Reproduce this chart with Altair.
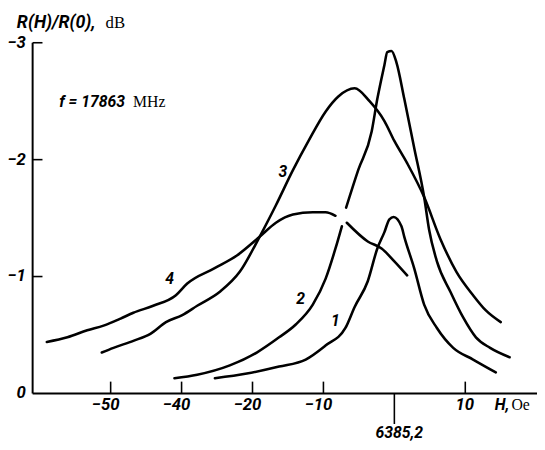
import altair as alt
import pandas as pd

# curve data: H (Oe, relative to 6385.2), R(H)/R(0) in dB
c1_H = [-25.3, -20.8, -16.25, -12.5, -9.7, -6.9, -5.6, -3.75, -2.4, -1.4, -0.7, -0.1, 1.0, 1.4, 2.8, 4.2, 6.0, 8.3, 11.1, 14.3]
c1_dB = [-0.13, -0.17, -0.23, -0.29, -0.41, -0.56, -0.74, -0.96, -1.24, -1.38, -1.49, -1.51, -1.43, -1.34, -1.07, -0.76, -0.56, -0.39, -0.29, -0.18]

c2a_H = [-31.0, -27.8, -23.2, -19.4, -16.25, -13.9, -11.5, -9.7, -8.3, -7.4]
c2a_dB = [-0.13, -0.16, -0.24, -0.35, -0.48, -0.59, -0.76, -0.98, -1.24, -1.43]
c2b_H = [-6.8, -5.1, -3.2, -2.4, -1.4, -1.0, -0.4, 0.3, 1.4, 2.8, 4.2, 4.9, 6.0, 7.9, 9.7, 11.5, 13.5, 16.25]
c2b_dB = [-1.59, -1.91, -2.24, -2.52, -2.81, -2.92, -2.93, -2.83, -2.52, -2.10, -1.68, -1.40, -1.13, -0.87, -0.65, -0.48, -0.39, -0.31]

c3_H = [-41.25, -39.6, -36.8, -34.4, -32.2, -29.9, -27.8, -24.6, -21.8, -19.0, -16.7, -14.3, -12.1, -9.7, -7.9, -5.6, -3.5, -1.4, 0.0, 1.8, 4.2, 6.5, 8.75, 11.1, 12.9, 15.0]
c3_dB = [-0.35, -0.39, -0.45, -0.51, -0.61, -0.67, -0.75, -0.87, -1.04, -1.34, -1.61, -1.91, -2.16, -2.41, -2.54, -2.61, -2.50, -2.33, -2.16, -1.97, -1.68, -1.32, -1.04, -0.84, -0.71, -0.61]

c4a_H = [-49.0, -46.1, -43.3, -41.0, -38.6, -36.8, -34.0, -30.8, -29.2, -25.4, -22.2, -19.0, -16.7, -14.3, -11.5, -9.7, -8.3]
c4a_dB = [-0.44, -0.48, -0.54, -0.58, -0.64, -0.69, -0.75, -0.84, -0.94, -1.07, -1.18, -1.34, -1.46, -1.53, -1.55, -1.55, -1.52]
c4b_H = [-6.7, -3.75, -1.8, 0.0, 1.8]
c4b_dB = [-1.46, -1.30, -1.24, -1.13, -1.01]

curve_labels = ["1", "2", "3", "4"]
curve_label_H = [-8.3, -13.2, -15.7, -31.7]
curve_label_dB = [-0.62, -0.81, -1.89, -0.98]

x_tick_values = [-40, -30, -20, -10, 10]
x_tick_labels = ["\u221250", "\u221240", "\u221220", "\u221210", "10"]
y_tick_values = [-1, -2, -3]
y_label_values = [0, -1, -2, -3]
y_label_texts = ["0", "\u22121", "\u22122", "\u22123"]
center_H = [0]
center_label = ["6385,2"]

SANS = "Roboto, Liberation Sans, sans-serif"
SERIF = "Liberation Serif, DejaVu Serif, serif"
W, H = 504, 356

rows = []
for seg, hs, ds in [("1", c1_H, c1_dB), ("2a", c2a_H, c2a_dB), ("2b", c2b_H, c2b_dB),
                    ("3", c3_H, c3_dB), ("4a", c4a_H, c4a_dB), ("4b", c4b_H, c4b_dB)]:
    for i, (h, d) in enumerate(zip(hs, ds)):
        rows.append({"H": h, "dB": d, "seg": seg, "i": i})
curves = pd.DataFrame(rows)

xs = alt.Scale(domain=[-51, 19], nice=False, zero=False)
ys = alt.Scale(domain=[0, -3], nice=False, zero=False)
X = alt.X("H:Q", scale=xs, axis=None)
Y = alt.Y("dB:Q", scale=ys, axis=None)

one = pd.DataFrame({"k": [0]})

lines = alt.Chart(curves).mark_line(color="black", strokeWidth=2.6, strokeCap="round", strokeJoin="round",
                                    interpolate="monotone").encode(
    x=X, y=Y, detail="seg:N", order="i:Q")

yaxis = alt.Chart(one).mark_rule(color="black", strokeWidth=2).encode(
    x=alt.value(0), y=alt.value(0), y2=alt.value(H))
xaxis = alt.Chart(one).mark_rule(color="black", strokeWidth=2).encode(
    x=alt.value(0), x2=alt.value(W + 8), y=alt.value(H))

ytick_df = pd.DataFrame({"dB": y_tick_values})
yticks = alt.Chart(ytick_df).mark_rule(color="black", strokeWidth=1.6).encode(
    y=Y, x=alt.value(0), x2=alt.value(10))

ylab_df = pd.DataFrame({"dB": y_label_values, "t": y_label_texts})
ylabels = alt.Chart(ylab_df).mark_text(font=SANS, fontSize=17, fontStyle="italic", fontWeight="bold",
                                       align="right", baseline="middle").encode(
    y=Y, x=alt.value(-7), text="t:N")

xtick_df = pd.DataFrame({"H": x_tick_values, "t": x_tick_labels})
xticks = alt.Chart(xtick_df).mark_rule(color="black", strokeWidth=1.6).encode(
    x=X, y=alt.value(H - 12), y2=alt.value(H))
xlabels = alt.Chart(xtick_df).mark_text(font=SANS, fontSize=17, fontStyle="italic", fontWeight="bold",
                                        align="right", baseline="middle", dx=9).encode(
    x=X, y=alt.value(H + 12), text="t:N")

center_df = pd.DataFrame({"H": center_H, "t": center_label})
center_tick = alt.Chart(center_df).mark_rule(color="black", strokeWidth=1.6).encode(
    x=X, y=alt.value(H), y2=alt.value(H + 31))
center_text = alt.Chart(center_df).mark_text(font=SANS, fontSize=16, fontStyle="italic", fontWeight="bold",
                                             align="center", baseline="middle", dx=5).encode(
    x=X, y=alt.value(H + 40), text="t:N")

lab_df = pd.DataFrame({"H": curve_label_H, "dB": curve_label_dB, "t": curve_labels})
clabels = alt.Chart(lab_df).mark_text(font=SANS, fontSize=16, fontStyle="italic", fontWeight="bold",
                                      align="center", baseline="middle").encode(
    x=X, y=Y, text="t:N")

def txt(s, x, y, font, size, style="normal", weight="normal"):
    return alt.Chart(one).mark_text(font=font, fontSize=size, fontStyle=style, fontWeight=weight,
                                    align="left", baseline="middle", color="black").encode(
        x=alt.value(x), y=alt.value(y), text=alt.value(s))

ytitle1 = txt("R(H)/R(0),", -16, -20, SANS, 18, "italic", "bold")
ytitle2 = txt("dB", 74, -20, SERIF, 17)
ftext1 = txt("f = 17863", 27, 60, SANS, 16, "italic", "bold")
ftext2 = txt("MHz", 102, 60, SERIF, 16)
xtitle1 = txt("H,", 469, H + 12, SANS, 16, "italic", "bold")
xtitle2 = txt("Oe", 486, H + 12, SERIF, 16)

chart = alt.layer(
    lines, yaxis, xaxis, yticks, ylabels, xticks, xlabels, center_tick, center_text, clabels,
    ytitle1, ytitle2, ftext1, ftext2, xtitle1, xtitle2
).properties(
    width=W, height=H,
    autosize=alt.AutoSizeParams(type="none"),
    padding={"left": 25, "top": 32, "right": 8, "bottom": 45},
).configure_view(stroke=None)

chart.save("out.html", embed_options={"renderer": "svg", "actions": False})
